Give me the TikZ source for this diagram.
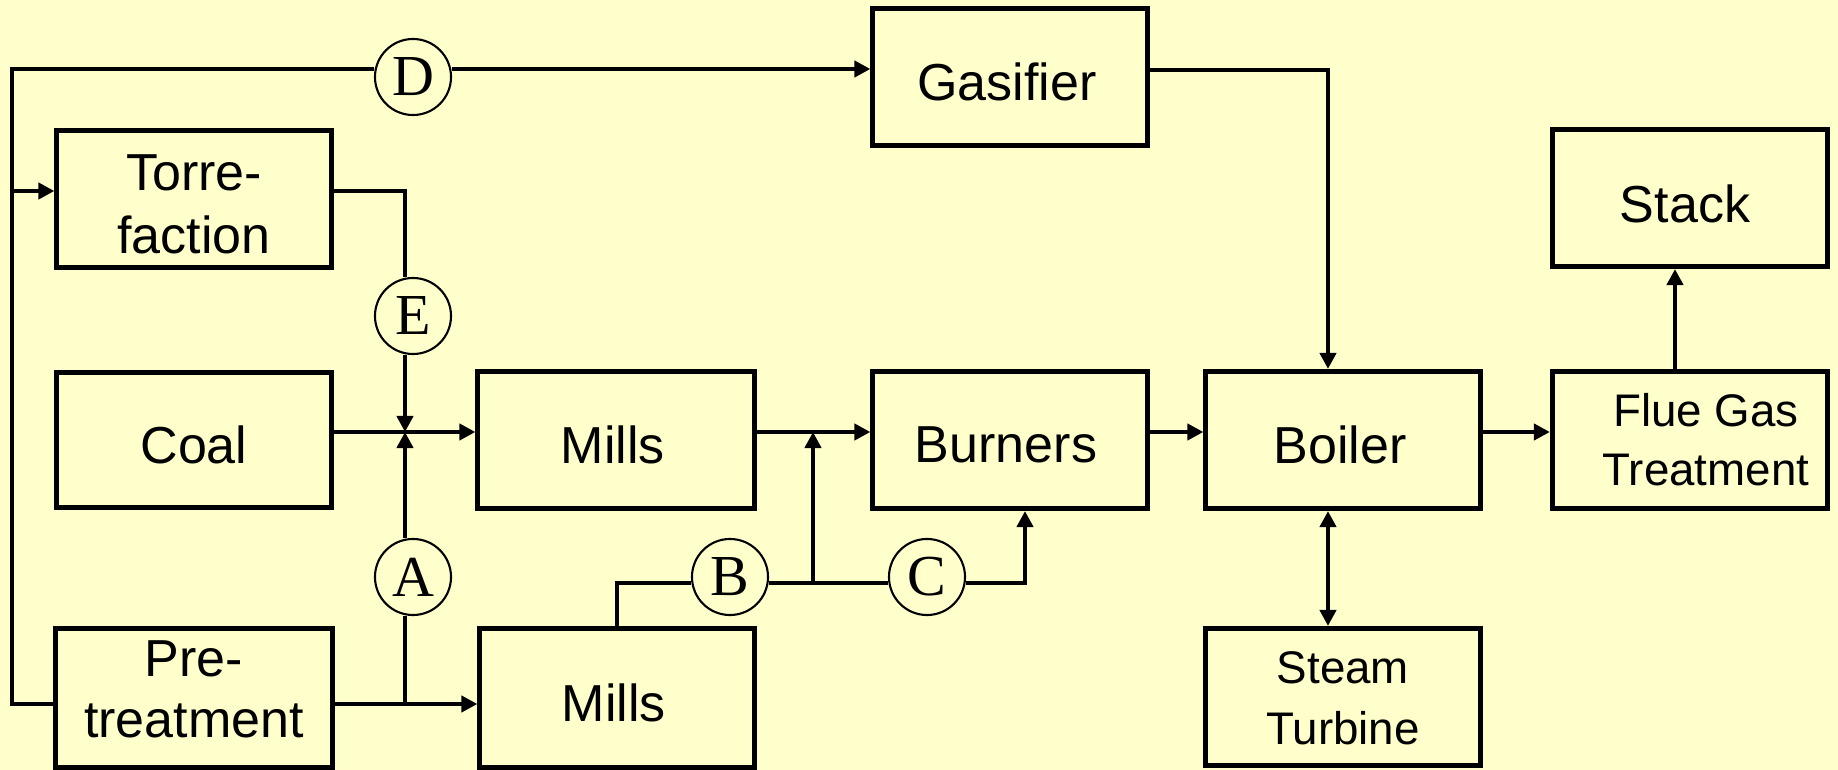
\documentclass[tikz,border=0pt]{standalone}
\usepackage{fontspec}
\setmainfont{Liberation Sans}
\newfontfamily\circfont{Liberation Serif}
\usetikzlibrary{arrows.meta}
\definecolor{bgyellow}{RGB}{255,255,204}
\tikzset{
  box/.style={draw, line width=1.42pt, minimum width=2.74cm, minimum height=1.36cm, inner sep=0pt},
  txt/.style={inner sep=0pt, align=center, font=\fontsize{14.8}{17.9}\selectfont},
  smalltxt/.style={txt, font=\fontsize{13}{17.3}\selectfont},
  circ/.style={draw, circle, line width=0.6pt, fill=bgyellow, minimum size=0.76cm, inner sep=0pt, font=\circfont\fontsize{16.5}{17}\selectfont},
  line/.style={line width=1.3pt},
  arr/.style={line, -{Triangle[length=0.16cm,width=0.16cm]}},
  dbl/.style={line, {Triangle[length=0.16cm,width=0.16cm]}-{Triangle[length=0.16cm,width=0.16cm]}}
}
\begin{document}
\begin{tikzpicture}[x=0.01cm, y=-0.01cm]
\fill[bgyellow] (0,0) rectangle (1838,770);
\useasboundingbox (0,0) rectangle (1838,770);

% boxes
\node[box] (gas) at (1010,77) {};
\node[box] (tor) at (194,199) {};
\node[box, minimum height=1.35cm] (coal) at (194,440) {};
\node[box, minimum width=2.76cm, minimum height=1.37cm] (mills1) at (616,440) {};
\node[box, minimum height=1.37cm] (burn) at (1010,440) {};
\node[box, minimum height=1.37cm] (boil) at (1343,440) {};
\node[box, minimum width=2.75cm, minimum height=1.37cm] (flue) at (1690,440) {};
\node[box, minimum width=2.75cm, minimum height=1.37cm] (stack) at (1690,198) {};
\node[box, minimum height=1.37cm] (steam) at (1343,697) {};
\node[box, minimum width=2.76cm, minimum height=1.38cm] (pre) at (194,698) {};
\node[box, minimum height=1.38cm] (mills2) at (617,698) {};

% box texts
\node[txt] (gas-t) at (1007,82) {Gasifier};
\node[txt] (tor-t) at (194,204) {Torre-\\faction};
\node[txt] (coal-t) at (194,445) {Coal};
\node[txt] (mills1-t) at (613,445) {Mills};
\node[txt] (burn-t) at (1006,445) {Burners};
\node[txt] (boil-t) at (1340,445) {Boiler};
\node[smalltxt, font=\fontsize{13}{16.8}\selectfont] (flue-t) at (1706,440) {Flue Gas\\Treatment};
\node[txt] (stack-t) at (1685,204) {Stack};
\node[smalltxt] (steam-t) at (1343,698) {Steam\\Turbine};
\node[txt, font=\fontsize{14.8}{17.3}\selectfont] (pre-t) at (194,689) {Pre-\\treatment};
\node[txt] (mills2-t) at (614,703) {Mills};

% junction coordinates
\coordinate (L0) at (12,704);
\coordinate (L1) at (12,69);
\coordinate (Lt) at (12,191);
\coordinate (T1) at (405,191);
\coordinate (J) at (405,432);
\coordinate (P) at (405,704);
\coordinate (K) at (813,432);
\coordinate (M) at (617,583);
\coordinate (Q) at (813,583);
\coordinate (R) at (1025,583);
\coordinate (G) at (1328,70);
\coordinate (S) at (1675,300);
\coordinate (PB) at (194,770);

% circles
\node[circ] (D) at (413,77) {D};
\node[circ] (E) at (413,316) {E};
\node[circ] (A) at (413,577) {A};
\node[circ] (B) at (730,577) {B};
\node[circ] (C) at (927,577) {C};

% connectors
\draw[line] (pre.west |- L0) -- (L0) -- (L1) -- (D.west |- L1);
\draw[arr] (D.east |- L1) -- (gas.west |- L1);
\draw[arr] (Lt) -- (tor.west |- Lt);
\draw[line] (tor.east |- T1) -- (T1) -- (T1 |- E.north);
\draw[arr] (J |- E.south) -- (J);
\draw[arr] (coal.east |- J) -- (mills1.west |- J);
\draw[arr] (pre.east |- L0) -- (mills2.west |- L0);
\draw[line] (P) -- (P |- A.south);
\draw[arr] (P |- A.north) -- (J);
\draw[arr] (mills1.east |- K) -- (burn.west |- K);
\draw[line] (mills2.north) -- (M) -- (M -| B.west);
\draw[line] (M -| B.east) -- (M -| C.west);
\draw[arr] (Q) -- (K);
\draw[arr] (M -| C.east) -- (R) -- (burn.south -| R);
\draw[arr] (burn.east |- K) -- (boil.west |- K);
\draw[arr] (gas.east |- G) -- (G) -- (boil.north -| G);
\draw[dbl] (boil.south -| G) -- (steam.north -| G);
\draw[arr] (boil.east |- K) -- (flue.west |- K);
\draw[arr] (flue.north -| S) -- (stack.south -| S);
\draw[line] (pre.south) -- (PB);
\end{tikzpicture}
\end{document}
